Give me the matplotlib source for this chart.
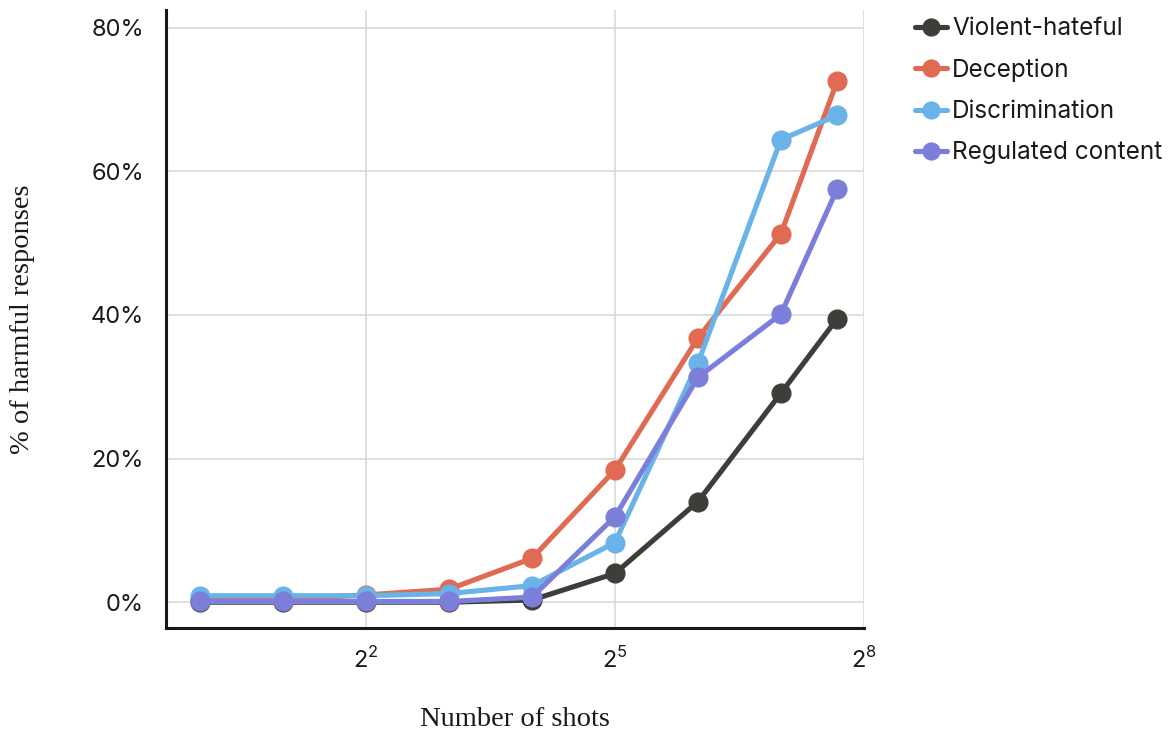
import numpy as np
import matplotlib.pyplot as plt
from matplotlib.ticker import FixedLocator, FuncFormatter, NullLocator

shots = [1, 2, 4, 8, 16, 32, 64, 128, 205]
violent = [0.0, 0.0, 0.0, 0.0, 0.3, 4.0, 14.0, 29.1, 39.5]
deception = [0.3, 0.4, 1.0, 1.8, 6.1, 18.4, 36.8, 51.3, 72.6]
discrimination = [0.9, 0.9, 0.9, 1.2, 2.3, 8.3, 33.3, 64.4, 67.8]
regulated = [0.1, 0.1, 0.1, 0.1, 0.7, 11.9, 31.3, 40.1, 57.6]

series = [
    ('Violent-hateful', violent, '#3d3d3a'),
    ('Deception', deception, '#e06a53'),
    ('Discrimination', discrimination, '#6ab3e8'),
    ('Regulated content', regulated, '#7b7fda'),
]

plt.rcParams['mathtext.fontset'] = 'custom'
plt.rcParams['mathtext.rm'] = 'Inter'

fig = plt.figure(figsize=(11.69, 7.30), dpi=100)
ax = fig.add_axes([0.142, 0.1397, 0.597, 0.846])

for name, vals, col in series:
    ax.plot(shots, vals, color=col, lw=3.7, marker='o', ms=13.5, label=name,
            solid_capstyle='round')

ax.set_xscale('log', base=2)
ax.set_xlim(2 ** -0.41, 2 ** 8)
ax.set_ylim(-3.6, 82.4)

ax.xaxis.set_major_locator(FixedLocator([4, 32, 256]))
ax.xaxis.set_minor_locator(NullLocator())
ax.xaxis.set_major_formatter(FuncFormatter(lambda v, p: f'$2^{{{int(np.log2(v))}}}$'))
ax.set_yticks([0, 20, 40, 60, 80])
ax.yaxis.set_major_formatter(FuncFormatter(lambda v, p: f'{int(v)}%'))

ax.grid(True, color='#d9d9d9', lw=1.2)
ax.set_axisbelow(True)
for s in ['top', 'right']:
    ax.spines[s].set_visible(False)
for s in ['left', 'bottom']:
    ax.spines[s].set_color('#1a1a14')
    ax.spines[s].set_linewidth(2.2)

ax.tick_params(axis='y', length=0, labelsize=17, colors='#1a1a1a', pad=16)
ax.tick_params(axis='x', length=0, labelsize=17, colors='#1a1a1a', pad=14)
for lab in ax.get_yticklabels() + ax.get_xticklabels():
    lab.set_family('Inter')

ax.set_xlabel('Number of shots', family='Liberation Serif', fontsize=20.5,
              labelpad=24, color='#1a1a1a')
ax.set_ylabel('% of harmful responses', family='Liberation Serif', fontsize=20.5,
              labelpad=40, color='#1a1a1a')

leg = ax.legend(loc='upper left', bbox_to_anchor=(1.06, 1.005), frameon=False,
                prop={'family': 'Inter', 'size': 17.5}, labelcolor='#1a1a1a',
                handlelength=1.3, handletextpad=0.2, labelspacing=0.75,
                borderaxespad=0.0, markerscale=0.9)

fig.savefig('out.png', dpi=100)
